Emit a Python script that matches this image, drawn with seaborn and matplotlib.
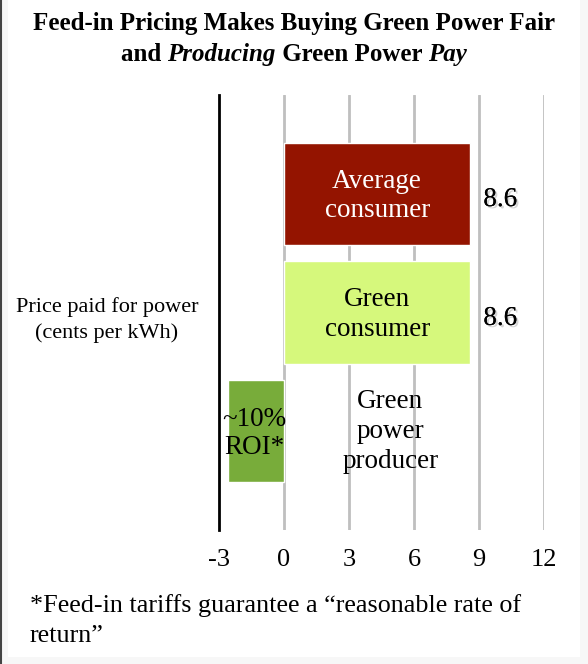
import matplotlib
matplotlib.use("Agg")
import matplotlib.pyplot as plt
import matplotlib.patheffects as pe
from matplotlib.patches import Rectangle
from matplotlib.lines import Line2D
import seaborn as sns
import pandas as pd

categories = ["Average consumer", "Green consumer", "Green power producer"]
prices = [8.6, 8.6, -2.6]
bar_colors = ["#941400", "#D6F87C", "#78AC3A"]
bar_texts = ["Average\nconsumer", "Green\nconsumer", "~10%\nROI*"]
value_labels = ["8.6", "8.6", ""]
x_ticks = [-3, 0, 3, 6, 9, 12]

sns.set_theme(style="white")
plt.rcParams["font.family"] = ["Liberation Serif", "DejaVu Serif"]
plt.rcParams["text.color"] = "black"
plt.rcParams["xtick.color"] = "black"

df = pd.DataFrame({"category": categories, "price": prices})

fig = plt.figure(figsize=(5.88, 6.64), dpi=100)

# soft frame: faint shading on left, right and bottom, dark line on the left
for x0, y0, w, h in [(0, 0, 8, 664), (580, 0, 8, 664), (0, 0, 588, 7)]:
    fig.patches.append(Rectangle((x0 / 588, y0 / 664), w / 588, h / 664,
                                 transform=fig.transFigure, color="#F7F7F7", lw=0, zorder=0))
fig.add_artist(Line2D([1.5 / 588, 1.5 / 588], [0, 1], transform=fig.transFigure,
                      color="#444444", lw=1.5))

ax = fig.add_axes([219 / 588, 1 - 530 / 664, 325 / 588, 435 / 664])

sns.barplot(data=df, x="price", y="category", hue="category",
            palette=bar_colors, orient="h", width=0.86, legend=False,
            saturation=1, ax=ax, zorder=3)

ax.set_xlim(-3, 12)
ax.set_ylim(2.83, -0.83)
ax.set_xticks(x_ticks)
ax.set_xticklabels([str(t) for t in x_ticks], fontsize=19)
ax.set_yticks([])
ax.set_xlabel("")
ax.set_ylabel("")
ax.tick_params(axis="x", length=0, pad=14)
for t in x_ticks[1:]:
    ax.axvline(t, color="#BFBFBF", lw=2, zorder=1)
for s in ["top", "right", "bottom"]:
    ax.spines[s].set_visible(False)
ax.spines["left"].set_color("black")
ax.spines["left"].set_linewidth(2)

# text inside / near bars
ax.text(4.3, 0.02, bar_texts[0], ha="center", va="center", fontsize=19.5,
        color="white", linespacing=1.26, zorder=4)
ax.text(4.3, 1.02, bar_texts[1], ha="center", va="center", fontsize=19.5,
        color="black", linespacing=1.26, zorder=4)
ax.text(-1.35, 2.02, bar_texts[2], ha="center", va="center", fontsize=19.5,
        color="black", linespacing=1.15, zorder=4)
ax.text(4.9, 2.0, "Green\npower\nproducer", ha="center", va="center",
        fontsize=19.5, color="black", linespacing=1.28, zorder=4)
shadow = [pe.withSimplePatchShadow(offset=(1.5, -1.5), shadow_rgbFace="#888888", alpha=0.35), pe.Normal()]
for i, v in enumerate(value_labels):
    if v:
        ax.text(prices[i] + 0.6, i + 0.05, v, ha="left", va="center", fontsize=19.5,
                path_effects=shadow, zorder=4)

fig.text(107 / 588, 1 - 320 / 664, "Price paid for power\n(cents per kWh)",
         ha="center", va="center", fontsize=16, linespacing=1.42)

# title with italic fragments
renderer = fig.canvas.get_renderer()
fig.text(0.5, 1 - 30 / 664, "Feed-in Pricing Makes Buying Green Power Fair",
         ha="center", va="baseline", fontsize=18, fontweight="bold")
parts = [("and ", "normal"), ("Producing", "italic"), (" Green Power ", "normal"), ("Pay", "italic")]
objs = []
for txt, st in parts:
    objs.append(fig.text(0, 1 - 61 / 664, txt, ha="left", va="baseline", fontsize=18,
                         fontweight="bold", fontstyle=st))
widths = [o.get_window_extent(renderer).width for o in objs]
x = (588 - sum(widths)) / 2
for o, w in zip(objs, widths):
    o.set_x(x / 588)
    x += w

fig.text(30 / 588, 1 - 606 / 664, "*Feed-in tariffs guarantee a \u201creasonable rate of",
         ha="left", va="center", fontsize=18.8)
fig.text(30 / 588, 1 - 636 / 664, "return\u201d", ha="left", va="center", fontsize=18.8)

fig.savefig("out.png", dpi=100)
